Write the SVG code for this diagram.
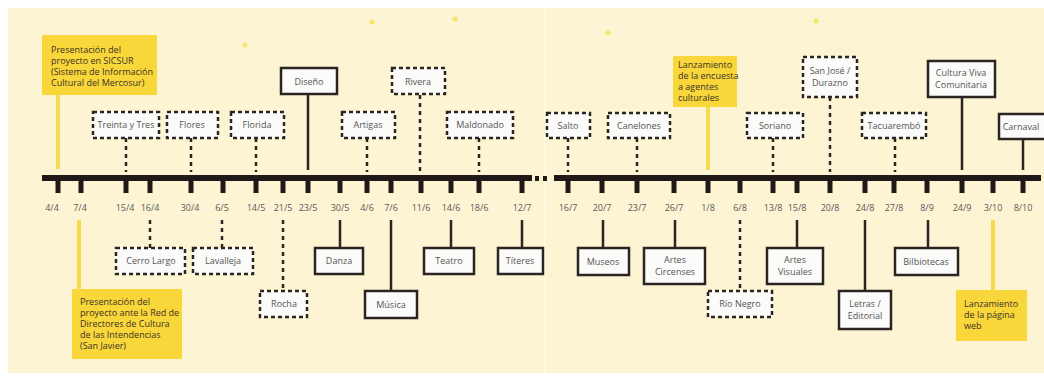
<svg xmlns="http://www.w3.org/2000/svg" width="1044" height="381" viewBox="0 0 1044 381">
<style>
.bg{fill:#fcf4d3}
.box{fill:#fbfbfa;stroke:#2a2522;stroke-width:2.5}
.dbox{fill:#fbfbfa;stroke:#2a2522;stroke-width:2.5;stroke-dasharray:4 3}
.ybox{fill:#f9d63a}
.sl{stroke:#2a2522;stroke-width:2.5;fill:none}
.dl{stroke:#2a2522;stroke-width:2.5;stroke-dasharray:4 4;fill:none}
.yl{stroke:#f7da4e;stroke-width:4;fill:none}
.bar{fill:#1f1a17}
text{font-family:"Open Sans","Noto Sans",sans-serif;font-size:9px;fill:#555}
.c{text-anchor:middle}
.d{fill:#5a5a5a;font-size:9px}
.yt{fill:#3a3328}
.dot{fill:#f3e24a;opacity:0.8}
</style>
<rect x="0" y="0" width="1044" height="381" fill="#ffffff"/>
<rect class="bg" x="8" y="8" width="1036" height="365"/>
<line x1="545" y1="8" x2="545" y2="373" stroke="#fffbe8" stroke-width="1.5"/>
<g id="dots">
<circle class="dot" cx="245" cy="45" r="2.5"/>
<circle class="dot" cx="372" cy="22" r="2.5"/>
<circle class="dot" cx="455" cy="19" r="2.5"/>
<circle class="dot" cx="608" cy="33" r="2.5"/>
<circle class="dot" cx="816" cy="21" r="2.5"/>
</g>
<g id="timeline">
<rect class="bar" x="42" y="175" width="490" height="6"/>
<rect class="bar" x="535" y="176" width="4" height="5"/>
<rect class="bar" x="543" y="176" width="4" height="5"/>
<rect class="bar" x="554" y="175" width="487" height="6"/>
<g id="ticks">
<rect class="bar" x="55.5" y="180" width="5" height="13"/>
<rect class="bar" x="78.5" y="180" width="5" height="13"/>
<rect class="bar" x="123.5" y="180" width="5" height="13"/>
<rect class="bar" x="147.5" y="180" width="5" height="13"/>
<rect class="bar" x="188.5" y="180" width="5" height="13"/>
<rect class="bar" x="220.5" y="180" width="5" height="13"/>
<rect class="bar" x="253.5" y="180" width="5" height="13"/>
<rect class="bar" x="280.5" y="180" width="5" height="13"/>
<rect class="bar" x="305.5" y="180" width="5" height="13"/>
<rect class="bar" x="337.5" y="180" width="5" height="13"/>
<rect class="bar" x="364.5" y="180" width="5" height="13"/>
<rect class="bar" x="388.5" y="180" width="5" height="13"/>
<rect class="bar" x="418.5" y="180" width="5" height="13"/>
<rect class="bar" x="448.5" y="180" width="5" height="13"/>
<rect class="bar" x="476.5" y="180" width="5" height="13"/>
<rect class="bar" x="519.5" y="180" width="5" height="13"/>
<rect class="bar" x="565.5" y="180" width="5" height="13"/>
<rect class="bar" x="599.5" y="180" width="5" height="13"/>
<rect class="bar" x="634.5" y="180" width="5" height="13"/>
<rect class="bar" x="671.5" y="180" width="5" height="13"/>
<rect class="bar" x="705.5" y="180" width="5" height="13"/>
<rect class="bar" x="737.5" y="180" width="5" height="13"/>
<rect class="bar" x="770.5" y="180" width="5" height="13"/>
<rect class="bar" x="794.5" y="180" width="5" height="13"/>
<rect class="bar" x="827.5" y="180" width="5" height="13"/>
<rect class="bar" x="862.5" y="180" width="5" height="13"/>
<rect class="bar" x="891.5" y="180" width="5" height="13"/>
<rect class="bar" x="924.5" y="180" width="5" height="13"/>
<rect class="bar" x="959.5" y="180" width="5" height="13"/>
<rect class="bar" x="990.5" y="180" width="5" height="13"/>
<rect class="bar" x="1020.5" y="180" width="5" height="13"/>
</g>
<g id="dates">
<text class="d c" x="52" y="211">4/4</text>
<text class="d c" x="80" y="211">7/4</text>
<text class="d c" x="125" y="211">15/4</text>
<text class="d c" x="150" y="211">16/4</text>
<text class="d c" x="190" y="211">30/4</text>
<text class="d c" x="222" y="211">6/5</text>
<text class="d c" x="256" y="211">14/5</text>
<text class="d c" x="283" y="211">21/5</text>
<text class="d c" x="308" y="211">23/5</text>
<text class="d c" x="340" y="211">30/5</text>
<text class="d c" x="367" y="211">4/6</text>
<text class="d c" x="391" y="211">7/6</text>
<text class="d c" x="421" y="211">11/6</text>
<text class="d c" x="451" y="211">14/6</text>
<text class="d c" x="479" y="211">18/6</text>
<text class="d c" x="522" y="211">12/7</text>
<text class="d c" x="568" y="211">16/7</text>
<text class="d c" x="602" y="211">20/7</text>
<text class="d c" x="637" y="211">23/7</text>
<text class="d c" x="674" y="211">26/7</text>
<text class="d c" x="708" y="211">1/8</text>
<text class="d c" x="740" y="211">6/8</text>
<text class="d c" x="773" y="211">13/8</text>
<text class="d c" x="797" y="211">15/8</text>
<text class="d c" x="830" y="211">20/8</text>
<text class="d c" x="865" y="211">24/8</text>
<text class="d c" x="894" y="211">27/8</text>
<text class="d c" x="927" y="211">8/9</text>
<text class="d c" x="962" y="211">24/9</text>
<text class="d c" x="993" y="211">3/10</text>
<text class="d c" x="1023" y="211">8/10</text>
</g>
</g>
<g id="connectors">
<line class="yl" x1="58" y1="95" x2="58" y2="169"/>
<line class="dl" x1="126" y1="138" x2="126" y2="172"/>
<line class="dl" x1="191" y1="138" x2="191" y2="172"/>
<line class="dl" x1="256" y1="138" x2="256" y2="172"/>
<line class="sl" x1="308" y1="94" x2="308" y2="170"/>
<line class="dl" x1="367" y1="138" x2="367" y2="172"/>
<line class="dl" x1="420" y1="95" x2="420" y2="172"/>
<line class="dl" x1="479" y1="138" x2="479" y2="172"/>
<line class="dl" x1="568" y1="138" x2="568" y2="172"/>
<line class="dl" x1="637" y1="138" x2="637" y2="172"/>
<line class="yl" x1="708" y1="107" x2="708" y2="170"/>
<line class="dl" x1="773" y1="138" x2="773" y2="172"/>
<line class="dl" x1="830" y1="97" x2="830" y2="172"/>
<line class="dl" x1="895" y1="138" x2="895" y2="172"/>
<line class="sl" x1="962" y1="97" x2="962" y2="170"/>
<line class="sl" x1="1023" y1="139" x2="1023" y2="170"/>
<line class="yl" x1="79" y1="220" x2="79" y2="289"/>
<line class="dl" x1="150" y1="220" x2="150" y2="248"/>
<line class="dl" x1="222" y1="220" x2="222" y2="248"/>
<line class="dl" x1="283" y1="220" x2="283" y2="291"/>
<line class="sl" x1="340" y1="220" x2="340" y2="248"/>
<line class="sl" x1="391" y1="220" x2="391" y2="291"/>
<line class="sl" x1="451" y1="220" x2="451" y2="248"/>
<line class="sl" x1="522" y1="220" x2="522" y2="248"/>
<line class="sl" x1="603" y1="220" x2="603" y2="248"/>
<line class="sl" x1="675" y1="220" x2="675" y2="248"/>
<line class="dl" x1="740" y1="220" x2="740" y2="291"/>
<line class="sl" x1="797" y1="220" x2="797" y2="248"/>
<line class="sl" x1="865" y1="220" x2="865" y2="291"/>
<line class="sl" x1="928" y1="220" x2="928" y2="248"/>
<line class="yl" x1="993" y1="220" x2="993" y2="290"/>
</g>
<g id="n-sicsur"><rect class="ybox" x="42" y="35" width="115" height="60"/>
<text class="yt" x="51" y="53">Presentación del</text><text class="yt" x="51" y="64">proyecto en SICSUR</text><text class="yt" x="51" y="75">(Sistema de Información</text><text class="yt" x="51" y="86">Cultural del Mercosur)</text></g>
<g id="n-treinta"><rect class="dbox" x="93" y="112" width="66" height="26"/><text class="c" x="126" y="128">Treinta y Tres</text></g>
<g id="n-flores"><rect class="dbox" x="167" y="112" width="51" height="26"/><text class="c" x="192" y="128">Flores</text></g>
<g id="n-florida"><rect class="dbox" x="231" y="112" width="53" height="26"/><text class="c" x="257" y="128">Florida</text></g>
<g id="n-diseno"><rect class="box" x="281" y="68" width="56" height="26"/><text class="c" x="309" y="85">Diseño</text></g>
<g id="n-artigas"><rect class="dbox" x="342" y="112" width="53" height="26"/><text class="c" x="368" y="128">Artigas</text></g>
<g id="n-rivera"><rect class="dbox" x="392" y="68" width="53" height="26"/><text class="c" x="418" y="85">Rivera</text></g>
<g id="n-maldonado"><rect class="dbox" x="447" y="112" width="66" height="26"/><text class="c" x="480" y="128">Maldonado</text></g>
<g id="n-salto"><rect class="dbox" x="547" y="113" width="43" height="25"/><text class="c" x="568" y="129">Salto</text></g>
<g id="n-canelones"><rect class="dbox" x="608" y="113" width="62" height="25"/><text class="c" x="639" y="129">Canelones</text></g>
<g id="n-encuesta"><rect class="ybox" x="673" y="56" width="64" height="51"/>
<text class="yt" x="678" y="68">Lanzamiento</text><text class="yt" x="678" y="79">de la encuesta</text><text class="yt" x="678" y="90">a agentes</text><text class="yt" x="678" y="101">culturales</text></g>
<g id="n-soriano"><rect class="dbox" x="747" y="113" width="56" height="25"/><text class="c" x="775" y="129">Soriano</text></g>
<g id="n-sanjose"><rect class="dbox" x="803" y="57" width="54" height="40"/><text class="c" x="830" y="74">San José /</text><text class="c" x="830" y="86">Durazno</text></g>
<g id="n-tacuarembo"><rect class="dbox" x="862" y="113" width="64" height="25"/><text class="c" x="894" y="129">Tacuarembó</text></g>
<g id="n-cultura"><rect class="box" x="928" y="61" width="67" height="36"/><text class="c" x="961" y="76">Cultura Viva</text><text class="c" x="961" y="88">Comunitaria</text></g>
<g id="n-carnaval"><rect class="box" x="999" y="114" width="48" height="25"/><text class="c" x="1021" y="130">Carnaval</text></g>
<g id="n-redcultura"><rect class="ybox" x="72" y="289" width="110" height="70"/>
<text class="yt" x="80" y="305">Presentación del</text><text class="yt" x="80" y="316">proyecto ante la Red de</text><text class="yt" x="80" y="327">Directores de Cultura</text><text class="yt" x="80" y="338">de las Intendencias</text><text class="yt" x="80" y="349">(San Javier)</text></g>
<g id="n-cerrolargo"><rect class="dbox" x="116" y="248" width="69" height="26"/><text class="c" x="151" y="264">Cerro Largo</text></g>
<g id="n-lavalleja"><rect class="dbox" x="193" y="248" width="60" height="26"/><text class="c" x="223" y="264">Lavalleja</text></g>
<g id="n-rocha"><rect class="dbox" x="260" y="291" width="47" height="26"/><text class="c" x="284" y="307">Rocha</text></g>
<g id="n-danza"><rect class="box" x="315" y="248" width="48" height="26"/><text class="c" x="339" y="264">Danza</text></g>
<g id="n-musica"><rect class="box" x="365" y="291" width="52" height="27"/><text class="c" x="391" y="308">Música</text></g>
<g id="n-teatro"><rect class="box" x="424" y="248" width="50" height="26"/><text class="c" x="449" y="264">Teatro</text></g>
<g id="n-titeres"><rect class="box" x="498" y="248" width="45" height="26"/><text class="c" x="520" y="264">Títeres</text></g>
<g id="n-museos"><rect class="box" x="578" y="248" width="51" height="27"/><text class="c" x="603" y="265">Museos</text></g>
<g id="n-circenses"><rect class="box" x="644" y="248" width="61" height="36"/><text class="c" x="675" y="263">Artes</text><text class="c" x="675" y="275">Circenses</text></g>
<g id="n-rionegro"><rect class="dbox" x="708" y="291" width="64" height="26"/><text class="c" x="740" y="307">Río Negro</text></g>
<g id="n-visuales"><rect class="box" x="767" y="248" width="56" height="36"/><text class="c" x="795" y="263">Artes</text><text class="c" x="795" y="275">Visuales</text></g>
<g id="n-letras"><rect class="box" x="839" y="291" width="52" height="38"/><text class="c" x="865" y="307">Letras /</text><text class="c" x="865" y="319">Editorial</text></g>
<g id="n-bibliotecas"><rect class="box" x="895" y="248" width="63" height="27"/><text class="c" x="926" y="265">Bilbiotecas</text></g>
<g id="n-web"><rect class="ybox" x="956" y="290" width="71" height="51"/>
<text class="yt" x="964" y="307">Lanzamiento</text><text class="yt" x="964" y="318">de la página</text><text class="yt" x="964" y="329">web</text></g>
</svg>
